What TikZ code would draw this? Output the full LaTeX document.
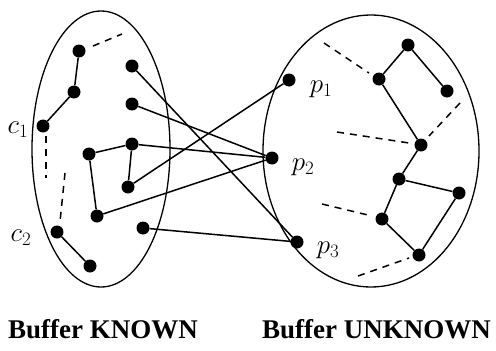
\documentclass[tikz,border=0pt]{standalone}
\usepackage{fix-cm}
\usepackage{fontspec}
\usetikzlibrary{calc}
\newfontfamily\lbl{Liberation Serif}
\begin{document}
\begin{tikzpicture}[x=1pt,y=-1pt,
  dot/.style={circle,fill=black,inner sep=0pt,minimum size=13pt},
  edge/.style={line width=1.5pt},
  dsh/.style={line width=1.5pt,dash pattern=on 7pt off 6pt},
  set/.style={line width=1.3pt},
  mlab/.style={font=\fontsize{27}{27}\selectfont,inner sep=0pt},
  blab/.style={font=\lbl\bfseries\fontsize{27}{27}\selectfont,inner sep=0pt}]
\useasboundingbox (0,0) rectangle (496,351);
% sets
\draw[set] (101,149) ellipse [x radius=69, y radius=138];
\draw[set] (371,151) ellipse [x radius=108, y radius=136];
% left nodes
\node[dot] (a1) at (79,51) {};
\node[dot] (a2) at (74,92) {};
\node[dot] (c1) at (43,126) {};
\node[dot] (b1) at (132,66) {};
\node[dot] (b2) at (132,104) {};
\node[dot] (d1) at (89,154) {};
\node[dot] (d2) at (132,144) {};
\node[dot] (d3) at (128,187) {};
\node[dot] (d4) at (97,216) {};
\node[dot] (e) at (143,228) {};
\node[dot] (c2) at (57,232) {};
\node[dot] (f) at (90,266) {};
% right nodes
\node[dot] (p1) at (289,80) {};
\node[dot] (p2) at (272,158) {};
\node[dot] (p3) at (297,242) {};
\node[dot] (r1) at (408,45) {};
\node[dot] (r2) at (379,79) {};
\node[dot] (r3) at (447,91) {};
\node[dot] (r4) at (421,145) {};
\node[dot] (r5) at (399,179) {};
\node[dot] (r6) at (459,193) {};
\node[dot] (r7) at (382,219) {};
\node[dot] (r8) at (419,255) {};
% free ends of dashed lines
\coordinate (k1) at (122,34);
\coordinate (k2) at (46,178);
\coordinate (k3) at (65,173);
\coordinate (u1) at (324,43);
\coordinate (u2) at (460,103);
\coordinate (u3) at (337,132);
\coordinate (u4) at (322,204);
\coordinate (u5) at (358,276);
% left edges
\draw[edge] (a1) -- (a2) -- (c1);
\draw[edge] (d4) -- (d1) -- (d2) -- (d3);
\draw[edge] (c2) -- (f);
% right edges
\draw[edge] (r2) -- (r1) -- (r3);
\draw[edge] (r2) -- (r4) -- (r5) -- (r6) -- (r8) -- (r7) -- (r5);
% cross edges
\draw[edge] (b1) -- (p3);
\draw[edge] (b2) -- (p2);
\draw[edge] (d2) -- (p2);
\draw[edge] (d3) -- (p1);
\draw[edge] (d4) -- (p2);
\draw[edge] (e) -- (p3);
% dashed
\draw[dsh] ($(a1)+(14,-5)$) -- (k1);
\draw[dsh] ($(c1)+(3,10)$) -- (k2);
\draw[dsh] (k3) -- ($(c2)+(3,-10)$);
\draw[dsh] (u1) -- ($(r2)+(-10,-6)$);
\draw[dsh] (u2) -- ($(r4)+(8,-9)$);
\draw[dsh] (u3) -- ($(r4)+(-12,-2)$);
\draw[dsh] (u4) -- ($(r7)+(-10,-3)$);
\draw[dsh] (u5) -- ($(r8)+(-10,3)$);
% labels
\node[mlab] (lc1) at (18,130) {$c_1$};
\node[mlab] (lc2) at (21,238) {$c_2$};
\node[mlab] (lp1) at (321,89) {$p_1$};
\node[mlab] (lp2) at (303,167) {$p_2$};
\node[mlab] (lp3) at (328,250) {$p_3$};
\node[blab,anchor=base west] (bk) at (8,338) {Buffer KNOWN};
\node[blab,anchor=base west] (bu) at (262,338) {Buffer UNKNOWN};
\end{tikzpicture}
\end{document}
